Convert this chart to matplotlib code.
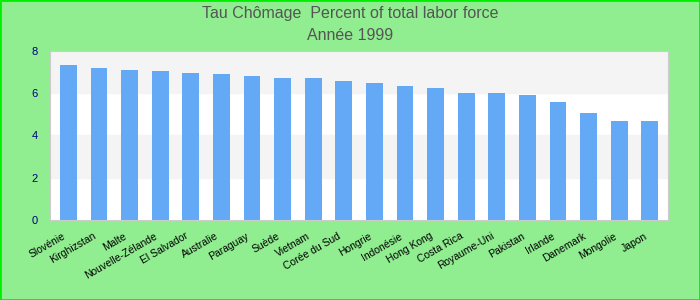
import matplotlib.pyplot as plt
import matplotlib.patches as patches
from matplotlib.transforms import ScaledTranslation

pays = ['Slovénie', 'Kirghizstan', 'Malte', 'Nouvelle-Zélande', 'El Salvador',
        'Australie', 'Paraguay', 'Suède', 'Vietnam', 'Corée du Sud', 'Hongrie',
        'Indonésie', 'Hong Kong', 'Costa Rica', 'Royaume-Uni', 'Pakistan',
        'Irlande', 'Danemark', 'Mongolie', 'Japon']
chomage = [7.34, 7.2, 7.1, 7.06, 6.97, 6.92, 6.82, 6.73, 6.73, 6.59, 6.49,
           6.35, 6.26, 6.02, 6.02, 5.92, 5.59, 5.07, 4.69, 4.69]
yticks = [0, 2, 4, 6, 8]

plt.rcParams['font.family'] = ['Liberation Sans', 'DejaVu Sans']

fig = plt.figure(figsize=(7, 3), dpi=100, facecolor='#90ee90')
ax = fig.add_axes([0.0714, 0.267, 0.883, 0.563])
ax.set_facecolor('white')

# bandes grises alternées
for lo in (2, 6):
    ax.axhspan(lo, lo + 2, color='#f4f4f4', zorder=0)

x = range(len(pays))
ax.bar(x, chomage, width=0.55, color='#63a9f5', zorder=2)

ax.set_xlim(-0.6, len(pays) - 0.4)
ax.set_ylim(0, 8)
ax.set_yticks(yticks)
ax.tick_params(axis='y', colors='#000080', labelsize=8, length=0, pad=9)
ax.set_xticks(list(x))
ax.set_xticklabels(pays, rotation=30, ha='right', rotation_mode='anchor', fontsize=7.5)
ax.tick_params(axis='x', length=0, pad=8)
decal = ScaledTranslation(-6 / 100, 0, fig.dpi_scale_trans)
for lab in ax.get_xticklabels():
    lab.set_transform(lab.get_transform() + decal)

for s in ax.spines.values():
    s.set_color('#cccccc')

fig.text(0.5, 0.955, 'Tau Chômage  Percent of total labor force', ha='center', va='center',
         fontsize=11.5, color='#555555')
fig.text(0.5, 0.882, 'Année 1999', ha='center', va='center', fontsize=11.5, color='#555555')

# cadre vert autour de la figure
fig.patches.append(patches.Rectangle((0, 0), 1, 1, transform=fig.transFigure,
                                     fill=False, edgecolor='#00ee00', linewidth=2))

fig.savefig('out.png', dpi=100, facecolor=fig.get_facecolor())
